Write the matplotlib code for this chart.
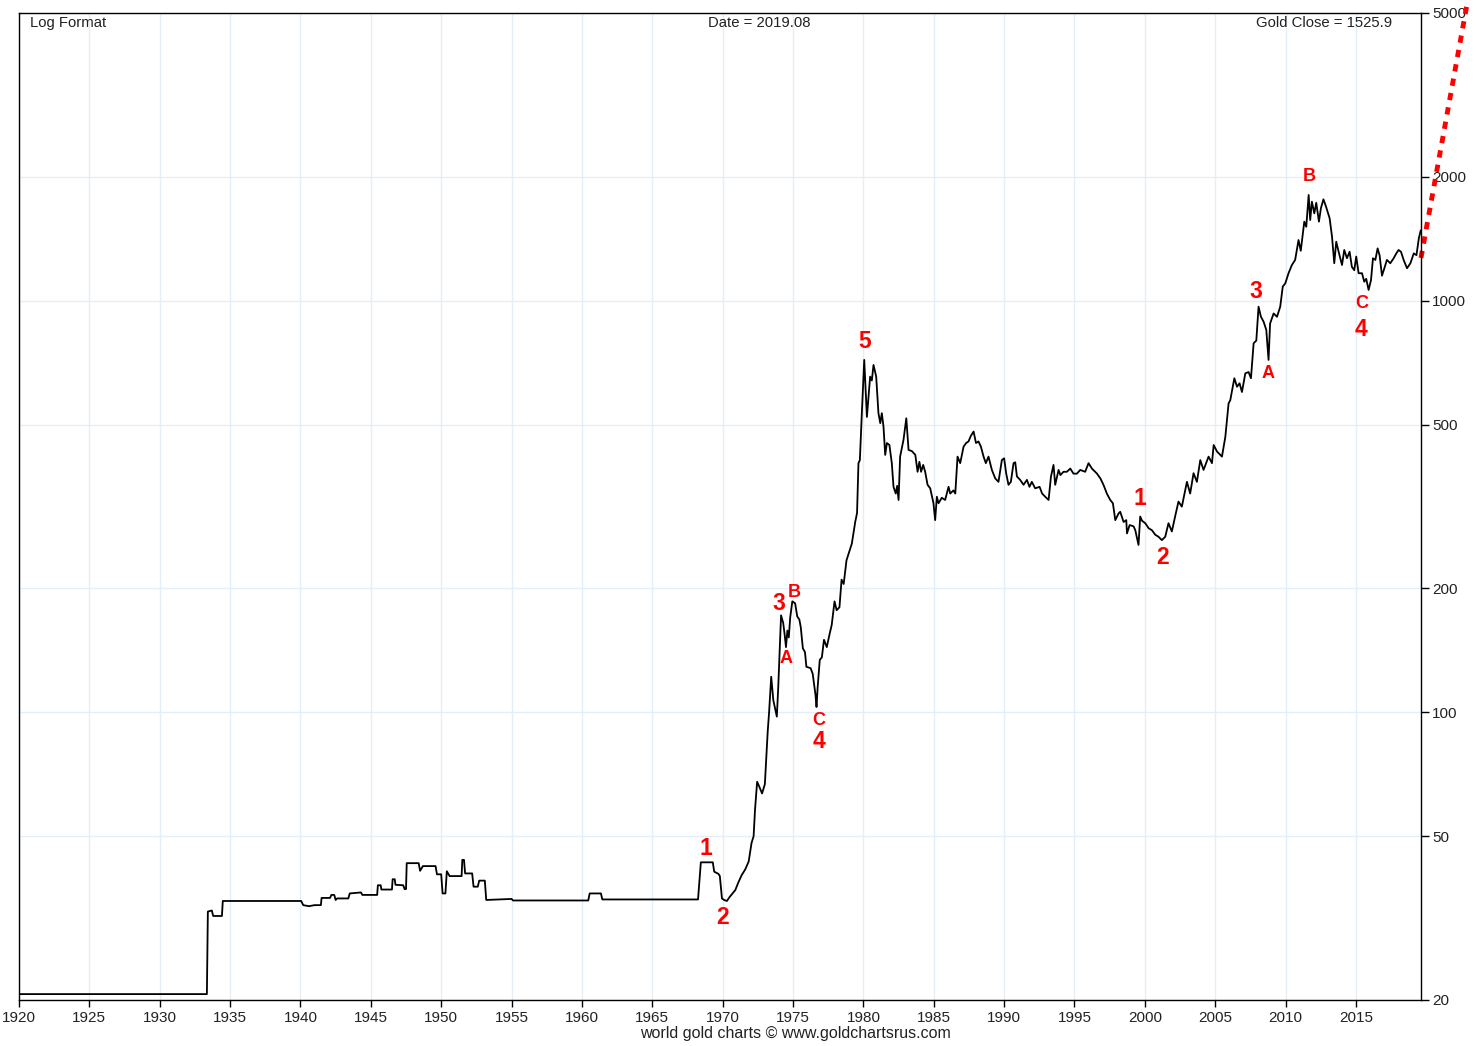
import matplotlib
matplotlib.use('Agg')
import matplotlib.pyplot as plt
from matplotlib.ticker import FixedLocator, NullLocator

plt.rcParams['font.family'] = ['Liberation Sans', 'DejaVu Sans']

# gold close (year, usd/oz)
years = [
    1920.0, 1933.35, 1933.42, 1933.7, 1933.8, 1934.42, 1934.48, 1940.05, 1940.2, 1940.6,
    1941.0, 1941.45, 1941.5, 1942.1, 1942.2, 1942.4, 1942.5, 1942.6, 1943.4, 1943.5,
    1944.3, 1944.4, 1945.45, 1945.5, 1945.7, 1945.75, 1946.5, 1946.55, 1946.7, 1946.75,
    1947.3, 1947.4, 1947.5, 1947.55, 1948.4, 1948.5, 1948.7, 1949.6, 1949.7, 1950.0,
    1950.1, 1950.3, 1950.4, 1950.6, 1951.45, 1951.5, 1951.62, 1951.7, 1952.2, 1952.3,
    1952.6, 1952.7, 1953.1, 1953.2, 1955.0, 1955.1, 1960.45, 1960.55, 1961.35, 1961.45,
    1968.25, 1968.45, 1969.3, 1969.4, 1969.7, 1969.8, 1969.95, 1970.1, 1970.3, 1970.5,
    1970.9, 1971.1, 1971.35, 1971.6, 1971.85, 1972.05, 1972.2, 1972.3, 1972.45, 1972.6,
    1972.8, 1973.0, 1973.2, 1973.3, 1973.45, 1973.6, 1973.85, 1973.95, 1974.15, 1974.3,
    1974.4, 1974.5, 1974.6, 1974.7, 1974.8, 1974.95, 1975.15, 1975.3, 1975.45, 1975.55,
    1975.7, 1975.85, 1975.95, 1976.25, 1976.4, 1976.6, 1976.67, 1976.75, 1976.9, 1977.05,
    1977.2, 1977.4, 1977.6, 1977.75, 1977.95, 1978.1, 1978.3, 1978.45, 1978.6, 1978.8,
    1979.18, 1979.42, 1979.55, 1979.65, 1979.75, 1979.89, 1980.06, 1980.25, 1980.48, 1980.6,
    1980.72, 1980.91, 1981.07, 1981.2, 1981.31, 1981.43, 1981.55, 1981.67, 1981.85, 1982.02,
    1982.14, 1982.3, 1982.4, 1982.5, 1982.61, 1982.85, 1983.05, 1983.21, 1983.45, 1983.69,
    1983.85, 1983.98, 1984.1, 1984.25, 1984.39, 1984.56, 1984.75, 1984.98, 1985.1, 1985.22,
    1985.34, 1985.57, 1985.81, 1986.05, 1986.17, 1986.4, 1986.53, 1986.69, 1986.88, 1987.12,
    1987.3, 1987.47, 1987.63, 1987.83, 1988.0, 1988.18, 1988.35, 1988.54, 1988.7, 1988.89,
    1989.13, 1989.37, 1989.6, 1989.84, 1990.0, 1990.15, 1990.31, 1990.48, 1990.67, 1990.79,
    1990.91, 1991.14, 1991.38, 1991.62, 1991.8, 1991.97, 1992.21, 1992.52, 1992.7, 1992.92,
    1993.16, 1993.33, 1993.51, 1993.63, 1993.87, 1994.0, 1994.22, 1994.46, 1994.7, 1994.93,
    1995.17, 1995.41, 1995.76, 1996.0, 1996.24, 1996.6, 1996.84, 1997.06, 1997.3, 1997.54,
    1997.73, 1997.9, 1998.13, 1998.25, 1998.49, 1998.68, 1998.73, 1998.92, 1999.2, 1999.32,
    1999.55, 1999.67, 1999.8, 2000.03, 2000.27, 2000.5, 2000.74, 2000.97, 2001.21, 2001.45,
    2001.68, 2001.92, 2002.15, 2002.39, 2002.63, 2002.99, 2003.22, 2003.46, 2003.7, 2003.94,
    2004.17, 2004.53, 2004.77, 2004.89, 2005.13, 2005.48, 2005.72, 2005.95, 2006.07, 2006.36,
    2006.55, 2006.73, 2006.9, 2007.14, 2007.37, 2007.54, 2007.73, 2007.92, 2008.08, 2008.25,
    2008.44, 2008.63, 2008.79, 2008.9, 2009.15, 2009.39, 2009.62, 2009.8, 2009.98, 2010.21,
    2010.45, 2010.68, 2010.92, 2011.08, 2011.33, 2011.47, 2011.64, 2011.75, 2011.87, 2012.04,
    2012.18, 2012.37, 2012.51, 2012.69, 2012.88, 2013.13, 2013.3, 2013.46, 2013.6, 2013.77,
    2014.01, 2014.17, 2014.36, 2014.55, 2014.71, 2014.88, 2015.02, 2015.19, 2015.43, 2015.59,
    2015.73, 2015.9, 2016.07, 2016.21, 2016.38, 2016.54, 2016.68, 2016.85, 2017.02, 2017.2,
    2017.44, 2017.68, 2017.87, 2018.03, 2018.2, 2018.39, 2018.63, 2018.87, 2019.11, 2019.3,
    2019.47, 2019.6,
]
prices = [
    20.67, 20.67, 32.8, 33.0, 32.0, 32.0, 34.8, 34.8, 34.0, 33.8,
    34.0, 34.0, 35.4, 35.4, 36.0, 36.0, 35.0, 35.3, 35.3, 36.3,
    36.5, 36.0, 36.0, 38.0, 38.0, 37.1, 37.1, 39.3, 39.3, 38.1,
    38.0, 37.2, 37.2, 43.0, 43.0, 41.2, 42.3, 42.3, 40.4, 40.4,
    36.3, 36.3, 41.1, 40.0, 40.0, 43.8, 43.8, 40.6, 40.6, 37.7,
    37.7, 39.0, 39.0, 35.0, 35.2, 34.9, 34.9, 36.3, 36.3, 35.1,
    35.1, 43.2, 43.2, 41.0, 40.5, 40.0, 35.3, 35.0, 34.8, 35.6,
    37.0, 38.5, 40.2, 41.5, 43.4, 48.1, 50.0, 58.0, 67.8, 66.0,
    63.5, 66.9, 89.7, 100, 122, 107, 97.6, 115, 172, 165,
    155, 144, 158, 152, 170, 186, 184, 171, 168, 161,
    143, 140, 129, 128, 124, 110, 103, 115, 134, 136,
    150, 144, 155, 163, 186, 177, 180, 210, 205, 234,
    257, 290, 305, 403, 410, 533, 718, 522, 654, 640,
    698, 654, 533, 504, 533, 494, 422, 451, 446, 403,
    353, 340, 355, 328, 418, 459, 518, 434, 431, 422,
    384, 406, 384, 399, 384, 357, 350, 322, 293, 334,
    322, 332, 328, 353, 340, 346, 340, 418, 403, 442,
    451, 455, 469, 481, 451, 455, 442, 418, 403, 418,
    388, 370, 363, 410, 414, 380, 357, 363, 403, 405,
    374, 367, 357, 367, 353, 363, 350, 353, 340, 334,
    328, 374, 399, 357, 388, 377, 384, 384, 391, 380,
    380, 388, 384, 403, 391, 380, 370, 357, 340, 328,
    322, 293, 304, 307, 290, 293, 272, 285, 283, 277,
    255, 299, 292, 288, 280, 277, 270, 267, 262, 267,
    288, 275, 299, 325, 316, 363, 340, 381, 363, 410,
    388, 418, 403, 446, 430, 418, 467, 563, 573, 648,
    618, 630, 600, 666, 671, 648, 788, 800, 967, 914,
    889, 849, 718, 880, 931, 914, 967, 1082, 1102, 1166,
    1221, 1256, 1404, 1322, 1556, 1512, 1806, 1570, 1740, 1630,
    1729, 1556, 1677, 1763, 1690, 1586, 1431, 1233, 1391, 1315,
    1221, 1328, 1268, 1315, 1209, 1186, 1280, 1166, 1166, 1112,
    1130, 1062, 1122, 1268, 1256, 1340, 1290, 1150, 1199, 1256,
    1233, 1268, 1303, 1328, 1315, 1256, 1199, 1233, 1303, 1290,
    1418, 1480,
]

# red dotted projection leaving the chart
proj_years = [2019.62, 2023.0]
proj_prices = [1270, 5500]

# wave labels
wave_text = ['1', '2', '3', 'B', 'A', 'C', '4', '5',
             '1', '2', '3', 'A', 'B', 'C', '4']
wave_years = [1968.83, 1969.96, 1974.02, 1975.08, 1974.5, 1976.86, 1976.86, 1980.06,
              1999.67, 2001.24, 2007.92, 2008.77, 2011.68, 2015.38, 2015.38]
wave_prices = [46.8, 31.8, 184, 195, 135, 95.3, 84.7, 798,
               330, 238, 1050, 664, 1998, 987, 849]

x_ticks = list(range(1920, 2016, 5))
y_ticks = [20, 50, 100, 200, 500, 1000, 2000, 5000]

fig = plt.figure(figsize=(14.79, 10.46), dpi=100)
ax = fig.add_axes([0.01285, 0.04398, 0.9480, 0.9436])

ax.plot(years, prices, color='black', lw=1.3)
ax.plot(proj_years, proj_prices, color='red', lw=3.5, linestyle=(0, (1.5, 1.5)), clip_on=False)

for t, xx, yy in zip(wave_text, wave_years, wave_prices):
    size = 13 if t in 'ABC' else 16.5
    ax.text(xx, yy, t, color='red', fontsize=size, fontweight='bold', ha='center', va='center')

ax.set_yscale('log')
ax.set_xlim(1920, 2019.63)
ax.set_ylim(20, 5000)

ax.xaxis.set_major_locator(FixedLocator(x_ticks))
ax.set_xticklabels([str(v) for v in x_ticks], fontsize=11, color='#222222')
ax.yaxis.set_major_locator(FixedLocator(y_ticks))
ax.yaxis.set_minor_locator(NullLocator())
ax.set_yticklabels([str(v) for v in y_ticks], fontsize=11, color='#222222')
ax.yaxis.tick_right()
ax.tick_params(axis='y', direction='out', length=6, width=1, pad=2)
ax.tick_params(axis='x', direction='out', length=5, width=1, pad=3)

ax.grid(True, color='#e3eef7', lw=1)
ax.set_axisbelow(True)
for sp in ax.spines.values():
    sp.set_linewidth(1)

# header texts inside the frame
ax.text(0.0078, 0.99, 'Log Format', transform=ax.transAxes, fontsize=10.7, ha='left', va='center', color='#222222')
ax.text(0.528, 0.99, 'Date = 2019.08', transform=ax.transAxes, fontsize=10.7, ha='center', va='center', color='#222222')
ax.text(0.979, 0.99, 'Gold Close = 1525.9', transform=ax.transAxes, fontsize=10.7, ha='right', va='center', color='#222222')

fig.text(0.5375, 0.0115, 'world gold charts \u00a9 www.goldchartsrus.com', fontsize=11.5, ha='center', va='center', color='#222222')

fig.savefig('out.png', dpi=100)
